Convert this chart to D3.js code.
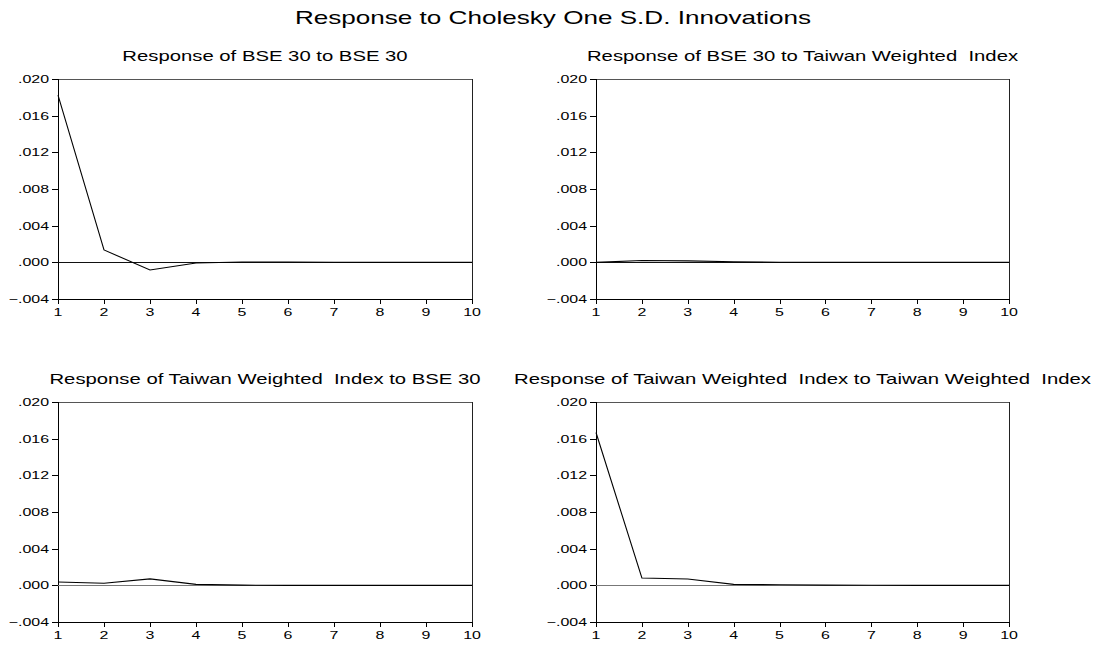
<!DOCTYPE html>
<html>
<head>
<meta charset="utf-8">
<script src="https://cdn.jsdelivr.net/npm/d3@7"></script>
<style>
  body { margin: 0; background: #fff; }
  text { font-family: "Liberation Sans", Arial, sans-serif; fill: #000; white-space: pre; }
</style>
</head>
<body>
<div id="chart"></div>
<script>
// horizon periods and tick labels
var periods = [1, 2, 3, 4, 5, 6, 7, 8, 9, 10];
var yTicks = [-0.004, 0.000, 0.004, 0.008, 0.012, 0.016, 0.020];

// impulse responses
var bseToBse       = [0.01825, 0.00135, -0.00084, -0.00008, 0.00004, 0.00003, 0.00001, 0, 0, 0];
var bseToTaiwan    = [0.0000, 0.00020, 0.00016, 0.00006, 0.00001, 0, 0, 0, 0, 0];
var taiwanToBse    = [0.00037, 0.00022, 0.00070, 0.00010, 0.00002, 0, 0, 0, 0, 0];
var taiwanToTaiwan = [0.01667, 0.00080, 0.00069, 0.00010, 0.00006, 0.00002, 0.00001, 0, 0, 0];

var titles = [
  "Response of BSE 30 to BSE 30",
  "Response of BSE 30 to Taiwan Weighted  Index",
  "Response of Taiwan Weighted  Index to BSE 30",
  "Response of Taiwan Weighted  Index to Taiwan Weighted  Index"
];
var series = [bseToBse, bseToTaiwan, taiwanToBse, taiwanToTaiwan];

var width = 1105, height = 645;
var stretch = 1.45; // the original text is wide, stretch glyphs horizontally

// plot boxes
var boxes = [
  {left: 58,  right: 472,  top: 79,  bottom: 299, zero: "#111"},
  {left: 596, right: 1009, top: 79,  bottom: 299, zero: "#111"},
  {left: 58,  right: 472,  top: 402, bottom: 622, zero: "#777"},
  {left: 596, right: 1009, top: 402, bottom: 622, zero: "#777"}
];

var svg = d3.select("#chart").append("svg")
  .attr("width", width)
  .attr("height", height);

function label(g, x, y, txt, size, anchor) {
  return g.append("text")
    .attr("transform", "translate(" + x + "," + y + ") scale(" + stretch + ",1)")
    .attr("text-anchor", anchor || "middle")
    .style("font-size", size + "px")
    .text(txt);
}

label(svg, 553, 24, "Response to Cholesky One S.D. Innovations", 18);

var fmt = function(d) { return d3.format(".3f")(d).replace("0.", "."); };

boxes.forEach(function(b, i) {
  var g = svg.append("g");
  var x = d3.scaleLinear().domain([1, 10]).range([b.left, b.right]);
  var y = d3.scaleLinear().domain([-0.004, 0.020]).range([b.bottom, b.top]);

  label(g, (b.left + b.right) / 2, b.top - 18, titles[i], 14);

  // frame (top and right)
  g.append("line")
    .attr("x1", b.left).attr("x2", b.right)
    .attr("y1", b.top + 0.5).attr("y2", b.top + 0.5)
    .attr("stroke", "#555");
  g.append("line")
    .attr("x1", b.right + 0.5).attr("x2", b.right + 0.5)
    .attr("y1", b.top).attr("y2", b.bottom)
    .attr("stroke", "#222");

  // y axis
  g.append("line")
    .attr("x1", b.left + 0.5).attr("x2", b.left + 0.5)
    .attr("y1", b.top).attr("y2", b.bottom + 1)
    .attr("stroke", "#000");
  g.selectAll(".yt").data(yTicks).enter().append("line")
    .attr("x1", b.left - 6).attr("x2", b.left)
    .attr("y1", function(d) { return Math.round(y(d)) + 0.5; })
    .attr("y2", function(d) { return Math.round(y(d)) + 0.5; })
    .attr("stroke", "#000");
  yTicks.forEach(function(d) {
    label(g, b.left - 9, y(d) + 4, fmt(d), 11, "end");
  });

  // x axis
  g.append("line")
    .attr("x1", b.left).attr("x2", b.right + 1)
    .attr("y1", b.bottom + 0.5).attr("y2", b.bottom + 0.5)
    .attr("stroke", "#000");
  g.selectAll(".xt").data(periods).enter().append("line")
    .attr("x1", function(d) { return Math.round(x(d)) + 0.5; })
    .attr("x2", function(d) { return Math.round(x(d)) + 0.5; })
    .attr("y1", b.bottom).attr("y2", b.bottom + 5)
    .attr("stroke", "#000");
  periods.forEach(function(d) {
    label(g, x(d), b.bottom + 17, String(d), 11);
  });

  // zero line
  g.append("line")
    .attr("x1", b.left).attr("x2", b.right)
    .attr("y1", Math.round(y(0)) + 0.5).attr("y2", Math.round(y(0)) + 0.5)
    .attr("stroke", b.zero);

  // response line
  var line = d3.line()
    .x(function(d, j) { return x(periods[j]); })
    .y(function(d) { return y(d); });
  g.append("path")
    .datum(series[i])
    .attr("d", line)
    .attr("fill", "none")
    .attr("stroke", "#000")
    .attr("stroke-width", 1.1);
});
</script>
</body>
</html>
